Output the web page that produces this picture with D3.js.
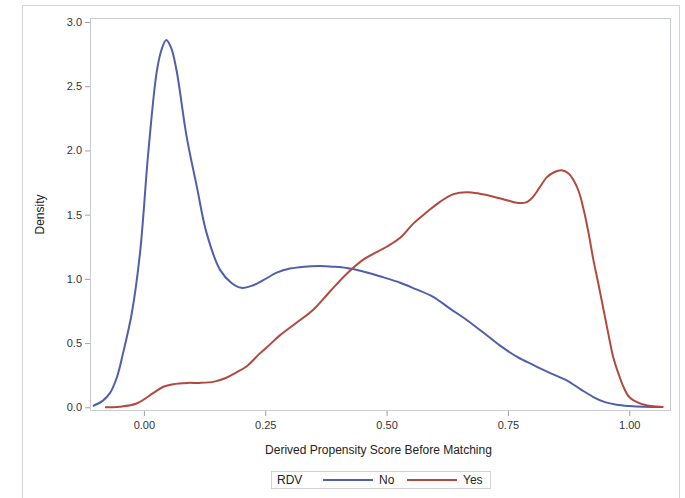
<!DOCTYPE html>
<html><head><meta charset="utf-8">
<script src="https://cdn.jsdelivr.net/npm/d3@7"></script>
<style>body{margin:0;background:#fff;}svg{display:block;font-family:"Liberation Sans",Arial,sans-serif;}</style>
</head><body><svg id="c" width="685" height="498"></svg>
<script>
const xTicks = [0, 0.25, 0.5, 0.75, 1.0];
const yTicks = [0, 0.5, 1.0, 1.5, 2.0, 2.5, 3.0];
const seriesNames = ["No", "Yes"];
const noX = [-0.105,-0.085,-0.07,-0.055,-0.043,-0.025,-0.008,0.009,0.026,0.036,0.046,0.056,0.067,0.088,0.109,0.129,0.157,0.18,0.201,0.225,0.246,0.275,0.301,0.33,0.363,0.39,0.418,0.45,0.486,0.528,0.56,0.596,0.63,0.665,0.7,0.734,0.77,0.802,0.835,0.871,0.9,0.926,0.95,0.974,1.0,1.03,1.07];
const noY = [0.01,0.05,0.11,0.24,0.42,0.73,1.2,1.98,2.6,2.78,2.86,2.8,2.63,2.11,1.72,1.36,1.07,0.97,0.93,0.95,0.99,1.05,1.08,1.095,1.1,1.095,1.085,1.06,1.02,0.97,0.92,0.86,0.77,0.68,0.58,0.48,0.39,0.33,0.27,0.21,0.14,0.08,0.04,0.02,0.01,0.004,0.002];
const yesX = [-0.08,-0.05,-0.015,0.019,0.04,0.06,0.09,0.115,0.145,0.17,0.19,0.212,0.239,0.26,0.28,0.315,0.349,0.383,0.418,0.452,0.5,0.528,0.555,0.583,0.61,0.638,0.665,0.69,0.72,0.75,0.775,0.79,0.802,0.815,0.83,0.845,0.861,0.875,0.885,0.896,0.906,0.916,0.926,0.937,0.947,0.957,0.967,0.978,0.988,1.0,1.022,1.045,1.07];
const yesY = [0.0,0.005,0.03,0.11,0.16,0.18,0.19,0.19,0.2,0.23,0.27,0.32,0.42,0.49,0.56,0.66,0.76,0.9,1.04,1.15,1.25,1.32,1.43,1.52,1.6,1.66,1.675,1.665,1.64,1.61,1.59,1.6,1.64,1.71,1.79,1.83,1.845,1.82,1.77,1.68,1.54,1.36,1.15,0.95,0.76,0.57,0.39,0.26,0.16,0.08,0.03,0.01,0.003];
const colors = ["#4f5fab", "#b2493e"];

const svg = d3.select("#c");
svg.append("rect").attr("x",22.5).attr("y",5.5).attr("width",657).attr("height",510)
  .attr("fill","#fff").attr("stroke","#d4d4d4");

const L=90, R=671, T=18, B=411;
const x = d3.scaleLinear().domain([-0.111, 1.086]).range([L, R]);
const y = d3.scaleLinear().domain([0, 3.0]).range([407.3, 22]);

svg.append("rect").attr("x",L+0.5).attr("y",T+0.5).attr("width",R-L-1).attr("height",B-T-1)
  .attr("fill","none").attr("stroke","#c8ccd2");

const gx = svg.append("g").attr("transform",`translate(0,${B})`)
  .call(d3.axisBottom(x).tickValues(xTicks).tickFormat(d3.format(".2f")).tickSize(5).tickSizeOuter(0));
const gy = svg.append("g").attr("transform",`translate(${L},0)`)
  .call(d3.axisLeft(y).tickValues(yTicks).tickFormat(d3.format(".1f")).tickSize(5).tickSizeOuter(0));
[gx,gy].forEach(g=>{
  g.select(".domain").remove();
  g.selectAll(".tick line").attr("stroke","#9aa0a8");
  g.selectAll(".tick text").attr("fill","#333").style("font-size","11px")
   .style("font-family",'"Liberation Sans",Arial,sans-serif');
});
gx.selectAll(".tick text").attr("dy","0.71em").attr("y",10);
gy.selectAll(".tick text").attr("x",-8);

svg.append("text").attr("x",(L+R)/2-2).attr("y",454).attr("text-anchor","middle")
  .attr("fill","#222").style("font-size","12px").text("Derived Propensity Score Before Matching");
svg.append("text").attr("transform",`translate(44,${(T+B)/2}) rotate(-90)`).attr("text-anchor","middle")
  .attr("fill","#222").style("font-size","12px").text("Density");

const line = d3.line().x(d=>x(d[0])).y(d=>y(d[1])).curve(d3.curveCatmullRom.alpha(0.5));
const data = [d3.zip(noX,noY), d3.zip(yesX,yesY)];
data.forEach((d,i)=>{
  svg.append("path").datum(d).attr("d",line).attr("fill","none")
    .attr("stroke",colors[i]).attr("stroke-width",2).attr("stroke-linejoin","round");
});

const lg = svg.append("g");
lg.append("rect").attr("x",271.5).attr("y",471.5).attr("width",219).attr("height",17)
  .attr("fill","#fff").attr("stroke","#d0d0d0");
lg.append("text").attr("x",277).attr("y",484).attr("fill","#222").style("font-size","12px").text("RDV");
const lx=[323,407];
seriesNames.forEach((n,i)=>{
  lg.append("line").attr("x1",lx[i]).attr("x2",lx[i]+50).attr("y1",480).attr("y2",480)
    .attr("stroke",colors[i]).attr("stroke-width",2);
  lg.append("text").attr("x",lx[i]+56).attr("y",484).attr("fill","#222").style("font-size","12px").text(n);
});
</script></body></html>
